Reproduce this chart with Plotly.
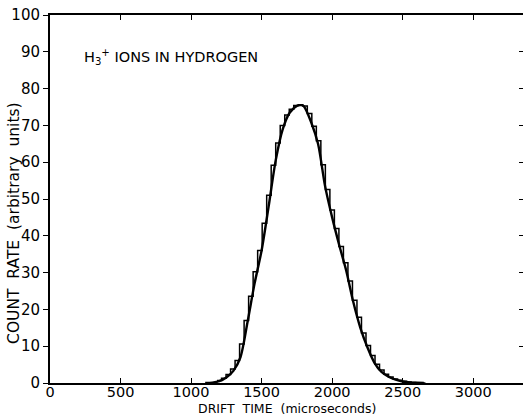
import plotly.graph_objects as go

# Smooth fitted curve (drift time in microseconds, count rate)
curve_t = [1100, 1150, 1200, 1250, 1300, 1350, 1400, 1450, 1500, 1550, 1600, 1650, 1700,
           1750, 1780, 1800, 1850, 1900, 1950, 2000, 2050, 2100, 2150, 2200, 2250, 2300,
           2350, 2400, 2450, 2500, 2550, 2600, 2650]
curve_v = [0, 0.1, 0.5, 1.5, 3.3, 7.0, 16.5, 27.0, 36.0, 48.0, 60.5, 69.0, 73.5,
           75.3, 75.5, 75.2, 71.0, 65.0, 53.5, 45.0, 37.5, 30.5, 22.0, 15.0, 9.7, 5.5,
           3.0, 1.7, 0.9, 0.4, 0.15, 0.05, 0]

# Histogram channels (left edges, microseconds) and counts
hist_edges = [1184, 1216, 1248, 1280, 1312, 1344, 1376, 1408, 1440, 1472, 1504, 1536,
              1568, 1600, 1632, 1664, 1696, 1728, 1760, 1792, 1824, 1856, 1888, 1920,
              1952, 1984, 2016, 2048, 2080, 2112, 2144, 2176, 2208, 2240, 2272, 2304,
              2336, 2368, 2400, 2432, 2464, 2496, 2528, 2560, 2592, 2624, 2656]
hist_counts = [0.7, 1.3, 2.3, 3.8, 6.1, 10.6, 17.0, 23.6, 30.2, 36.0, 43.4, 51.0,
               59.2, 65.2, 70.0, 72.8, 74.4, 75.4, 75.6, 75.3, 73.2, 69.8, 65.8, 59.3,
               52.6, 47.0, 42.0, 37.1, 32.7, 27.7, 22.5, 17.9, 13.6, 10.2, 7.5, 5.1,
               3.5, 2.4, 1.6, 1.1, 0.75, 0.45, 0.3, 0.13, 0.07, 0.03]

x_ticks = [0, 500, 1000, 1500, 2000, 2500, 3000]
y_ticks = [0, 10, 20, 30, 40, 50, 60, 70, 80, 90, 100]

font_main = "DejaVu Sans"

fig = go.Figure()
fig.add_trace(go.Scatter(x=hist_edges, y=hist_counts + [0], mode="lines",
                         line=dict(color="black", width=1.5, shape="hv"),
                         showlegend=False, hoverinfo="skip"))
fig.add_trace(go.Scatter(x=curve_t, y=curve_v, mode="lines",
                         line=dict(color="black", width=2.4, shape="spline", smoothing=0.8),
                         showlegend=False, hoverinfo="skip"))
# invisible trace to carry right-side ticks
fig.add_trace(go.Scatter(x=[0], y=[0], yaxis="y2", mode="markers",
                         marker=dict(opacity=0), showlegend=False, hoverinfo="skip"))

fig.update_layout(
    width=523, height=415,
    margin=dict(l=50, r=0, t=15, b=32),
    paper_bgcolor="white", plot_bgcolor="white",
    font=dict(family=font_main, color="black", size=14),
    xaxis=dict(range=[0, 3353], tickvals=x_ticks, ticktext=[str(v) for v in x_ticks],
               ticks="inside", ticklen=5, tickwidth=1.2, tickcolor="black",
               showline=True, linecolor="black", linewidth=2, mirror="ticks",
               ticklabelstandoff=-5,
               showgrid=False, zeroline=False, tickfont=dict(size=14.5)),
    yaxis=dict(range=[0, 100], tickvals=y_ticks, ticktext=[str(v) for v in y_ticks],
               ticks="outside", ticklen=5, tickwidth=1.2, tickcolor="black",
               showline=True, linecolor="black", linewidth=2,
               showgrid=False, zeroline=False, tickfont=dict(size=15)),
    yaxis2=dict(range=[0, 100], overlaying="y", side="right", tickvals=y_ticks,
                ticks="inside", ticklen=4, tickwidth=1.4, tickcolor="black",
                showticklabels=False, showgrid=False, zeroline=False,
                showline=False),
    annotations=[
        dict(text="DRIFT  TIME  (microseconds)", xref="paper", yref="paper",
             x=0.5, y=0, yshift=-25, showarrow=False, yanchor="middle",
             font=dict(size=12.5)),
        dict(text="COUNT  RATE  (arbitrary  units)", xref="paper", yref="paper",
             x=0, xshift=-36, y=0.435, showarrow=False, textangle=-90,
             xanchor="center", yanchor="middle", font=dict(size=15.5)),
        dict(text="H<sub>3</sub><sup>+</sup> IONS IN HYDROGEN", xref="x", yref="y",
             x=230, y=88.6, showarrow=False, xanchor="left", font=dict(size=14.5)),
    ],
)

fig.write_html("out.html")
